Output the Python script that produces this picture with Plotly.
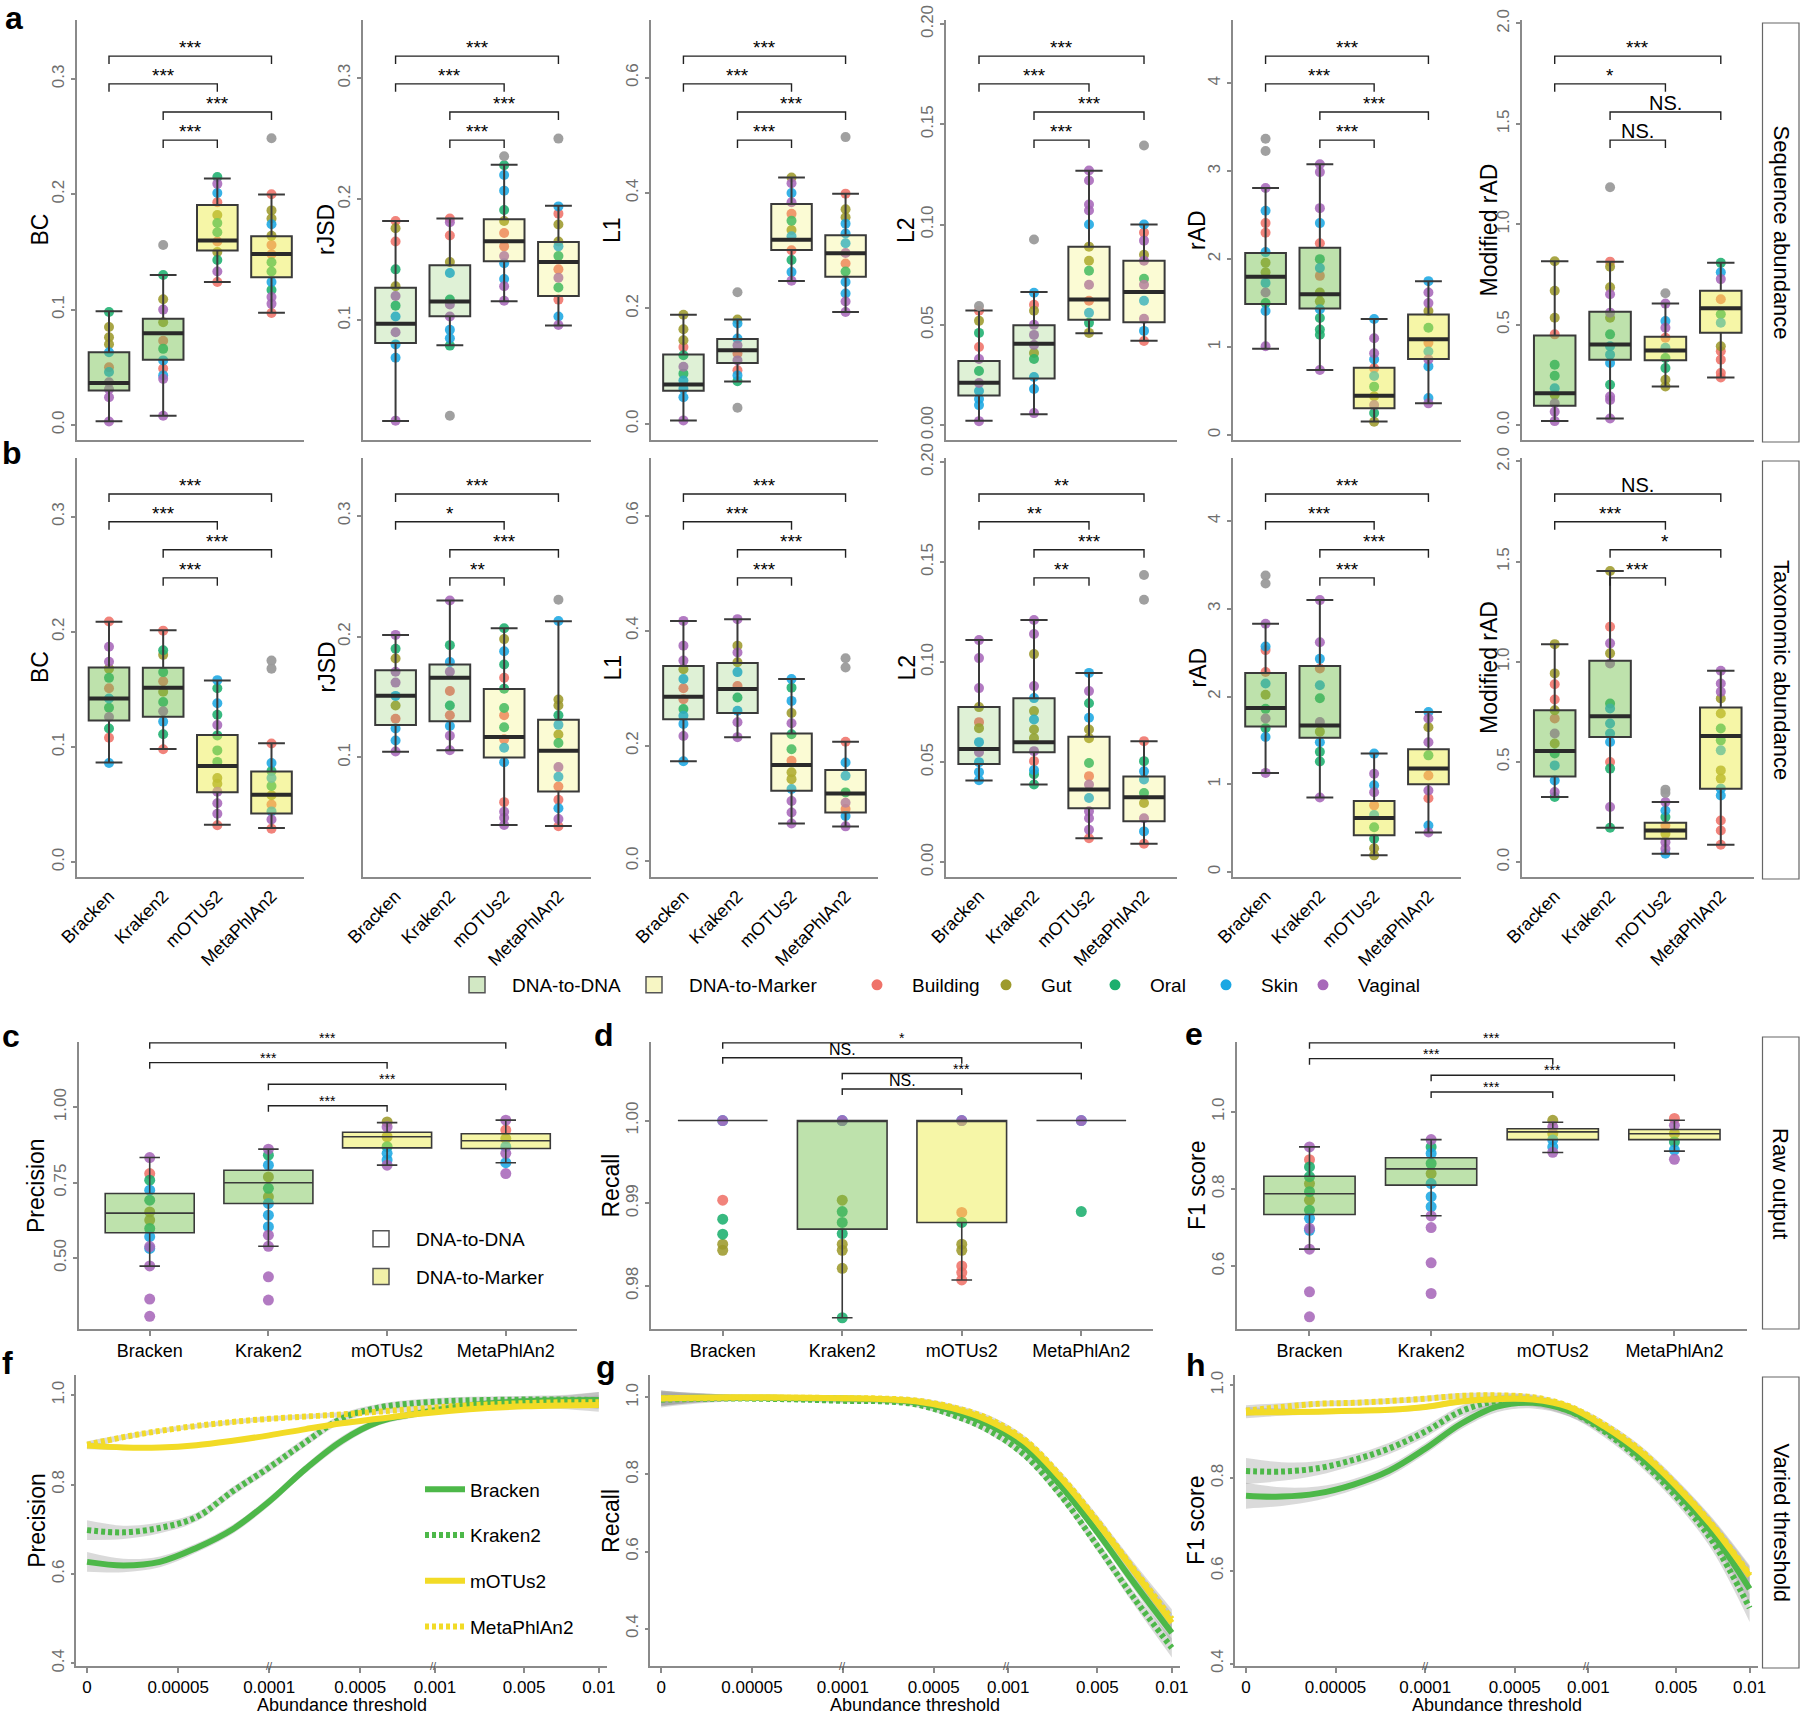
import plotly.graph_objects as go

W, H = 1800, 1714
FONT = "Liberation Sans, Arial, sans-serif"

TOOLS = ["Bracken", "Kraken2", "mOTUs2", "MetaPhlAn2"]
ENV_CODES = ["B", "G", "O", "S", "V"]
ENV_NAMES = ["Building", "Gut", "Oral", "Skin", "Vaginal"]
ENV_COLORS = ["#EF7269", "#9D9A2C", "#1DAF6E", "#1BA7E3", "#A768B9"]
OUTLIER_COLOR = "#9B9B9B"
GREEN_LINE = "#4DB849"
YELLOW_LINE = "#F2DB26"
SIG_PAIRS = [(1, 4), (1, 3), (2, 4), (2, 3)]

# ---------------- row a : sequence abundance ----------------
# box stats per tool: (lower whisker, Q1, median, Q3, upper whisker)
BC_SEQ_BOX = [(.0032, .0298, .0365, .0631, .0985), (.0081, .0565, .0796, .0921, .130),
              (.124, .1512, .1599, .1906, .2137), (.0973, .128, .1483, .1636, .1998)]
BC_SEQ_PTS = [
    [(.098, 'O'), (.085, 'G'), (.076, 'G'), (.070, 'G'), (.063, 'S'), (.050, 'B'), (.046, 'S'), (.037, 'V'), (.031, 'V'), (.024, 'V'), (.003, 'V')],
    [(.130, 'O'), (.109, 'G'), (.100, 'V'), (.089, 'G'), (.073, 'B'), (.066, 'O'), (.056, 'S'), (.049, 'B'), (.043, 'S'), (.040, 'V'), (.008, 'V')],
    [(.215, 'O'), (.209, 'V'), (.201, 'S'), (.193, 'B'), (.182, 'G'), (.175, 'O'), (.167, 'O'), (.159, 'B'), (.150, 'G'), (.143, 'O'), (.133, 'V'), (.124, 'B')],
    [(.200, 'B'), (.186, 'G'), (.179, 'G'), (.174, 'S'), (.164, 'G'), (.156, 'B'), (.148, 'B'), (.141, 'O'), (.133, 'O'), (.124, 'S'), (.117, 'O'), (.111, 'V'), (.105, 'V'), (.097, 'B')]]
BC_SEQ_OUT = [[], [.156], [], [.2485]]
BC_SEQ_SIG = ["***", "***", "***", "***"]

RJSD_SEQ_BOX = [(.0168, .0812, .097, .1268, .182), (.0793, .1033, .1155, .1453, .184),
                (.1157, .1486, .1652, .1834, .2285), (.0956, .1199, .148, .1646, .1945)]
RJSD_SEQ_PTS = [
    [(.182, 'B'), (.176, 'G'), (.165, 'B'), (.142, 'O'), (.128, 'G'), (.120, 'V'), (.112, 'O'), (.103, 'S'), (.090, 'V'), (.080, 'S'), (.069, 'S'), (.017, 'V')],
    [(.184, 'B'), (.181, 'V'), (.170, 'B'), (.148, 'G'), (.139, 'S'), (.117, 'O'), (.113, 'V'), (.103, 'V'), (.092, 'S'), (.085, 'S'), (.079, 'O')],
    [(.228, 'O'), (.220, 'S'), (.207, 'S'), (.191, 'O'), (.182, 'G'), (.172, 'B'), (.161, 'B'), (.153, 'V'), (.147, 'S'), (.134, 'S'), (.128, 'V'), (.116, 'V')],
    [(.194, 'S'), (.188, 'B'), (.179, 'G'), (.165, 'G'), (.161, 'S'), (.153, 'O'), (.142, 'B'), (.135, 'V'), (.127, 'O'), (.117, 'B'), (.103, 'S'), (.096, 'V')]]
RJSD_SEQ_OUT = [[], [.021], [.2354], [.250]]
RJSD_SEQ_SIG = ["***", "***", "***", "***"]

L1_SEQ_BOX = [(.0058, .0574, .0684, .120, .189), (.0736, .1055, .1275, .147, .181),
              (.2475, .3014, .319, .381, .4272), (.194, .255, .2957, .327, .399)]
L1_SEQ_PTS = [
    [(.189, 'G'), (.164, 'G'), (.145, 'G'), (.133, 'B'), (.119, 'O'), (.099, 'V'), (.087, 'O'), (.075, 'S'), (.061, 'S'), (.046, 'S'), (.006, 'V')],
    [(.181, 'G'), (.174, 'S'), (.148, 'S'), (.136, 'V'), (.122, 'B'), (.110, 'V'), (.093, 'B'), (.084, 'S'), (.074, 'O')],
    [(.427, 'G'), (.417, 'V'), (.400, 'S'), (.384, 'V'), (.364, 'B'), (.352, 'O'), (.336, 'G'), (.325, 'S'), (.301, 'B'), (.284, 'O'), (.263, 'S'), (.248, 'V')],
    [(.399, 'B'), (.372, 'G'), (.358, 'G'), (.347, 'S'), (.330, 'S'), (.313, 'S'), (.296, 'V'), (.278, 'B'), (.264, 'O'), (.246, 'S'), (.226, 'S'), (.212, 'V'), (.194, 'V')]]
L1_SEQ_OUT = [[], [.228, .0278], [], [.497]]
L1_SEQ_SIG = ["***", "***", "***", "***"]

L2_SEQ_BOX = [(.0022, .0148, .0211, .032, .0572), (.0055, .0232, .0406, .0498, .0664),
              (.0458, .0525, .0626, .089, .1268), (.0421, .0513, .0664, .082, .100)]
L2_SEQ_PTS = [
    [(.057, 'B'), (.052, 'G'), (.046, 'O'), (.039, 'B'), (.033, 'V'), (.027, 'O'), (.021, 'V'), (.017, 'S'), (.013, 'S'), (.010, 'S'), (.002, 'V')],
    [(.066, 'S'), (.060, 'B'), (.057, 'G'), (.050, 'V'), (.045, 'V'), (.040, 'V'), (.036, 'G'), (.033, 'O'), (.024, 'S'), (.018, 'S'), (.006, 'V')],
    [(.127, 'V'), (.122, 'V'), (.110, 'V'), (.107, 'V'), (.100, 'S'), (.089, 'G'), (.082, 'G'), (.077, 'O'), (.070, 'V'), (.062, 'B'), (.056, 'S'), (.051, 'O'), (.046, 'G')],
    [(.100, 'S'), (.096, 'B'), (.092, 'V'), (.085, 'G'), (.082, 'V'), (.073, 'O'), (.070, 'V'), (.062, 'S'), (.053, 'V'), (.047, 'S'), (.042, 'B')]]
L2_SEQ_OUT = [[.0594], [.0926], [], [.1394]]
L2_SEQ_SIG = ["***", "***", "***", "***"]

RAD_SEQ_BOX = [(0.98, 1.49, 1.80, 2.07, 2.81), (0.74, 1.44, 1.60, 2.13, 3.08),
               (0.152, 0.305, 0.446, 0.766, 1.32), (0.36, 0.865, 1.09, 1.37, 1.75)]
RAD_SEQ_PTS = [
    [(2.81, 'V'), (2.55, 'S'), (2.41, 'B'), (2.30, 'B'), (2.08, 'S'), (1.96, 'G'), (1.85, 'G'), (1.73, 'S'), (1.62, 'V'), (1.50, 'O'), (1.41, 'S'), (1.01, 'V')],
    [(3.08, 'V'), (2.99, 'V'), (2.58, 'V'), (2.41, 'S'), (2.18, 'B'), (2.0, 'O'), (1.90, 'S'), (1.81, 'B'), (1.62, 'G'), (1.52, 'G'), (1.43, 'S'), (1.33, 'O'), (1.20, 'O'), (1.14, 'O'), (0.74, 'V')],
    [(1.32, 'S'), (1.10, 'V'), (0.93, 'V'), (0.86, 'S'), (0.76, 'B'), (0.67, 'S'), (0.55, 'O'), (0.44, 'G'), (0.34, 'V'), (0.25, 'O'), (0.15, 'G')],
    [(1.75, 'S'), (1.62, 'V'), (1.50, 'V'), (1.41, 'G'), (1.22, 'O'), (1.05, 'B'), (0.95, 'S'), (0.86, 'V'), (0.78, 'S'), (0.42, 'S'), (0.36, 'V')]]
RAD_SEQ_OUT = [[3.37, 3.23], [], [], []]
RAD_SEQ_SIG = ["***", "***", "***", "***"]

MRAD_SEQ_BOX = [(.020, .097, .159, .4465, .816), (.033, .326, .401, .565, .814),
                (.192, .323, .371, .44, .605), (.237, .46, .582, .669, .808)]
MRAD_SEQ_PTS = [
    [(.816, 'G'), (.669, 'G'), (.535, 'G'), (.452, 'B'), (.301, 'O'), (.246, 'O'), (.184, 'S'), (.151, 'G'), (.109, 'V'), (.067, 'V'), (.020, 'V')],
    [(.814, 'B'), (.789, 'G'), (.686, 'G'), (.652, 'V'), (.560, 'V'), (.535, 'G'), (.452, 'O'), (.393, 'S'), (.351, 'S'), (.309, 'S'), (.201, 'O'), (.142, 'V'), (.125, 'V'), (.033, 'V')],
    [(.605, 'V'), (.518, 'S'), (.485, 'V'), (.435, 'B'), (.385, 'S'), (.334, 'O'), (.284, 'O'), (.226, 'G'), (.192, 'G')],
    [(.808, 'O'), (.761, 'S'), (.727, 'V'), (.627, 'B'), (.552, 'O'), (.510, 'S'), (.393, 'G'), (.368, 'B'), (.326, 'B'), (.259, 'B'), (.237, 'B')]]
MRAD_SEQ_OUT = [[], [1.184], [.657], []]
MRAD_SEQ_SIG = ["***", "*", "NS.", "NS."]

# ---------------- row b : taxonomic abundance ----------------
BC_TAX_BOX = [(.0864, .123, .142, .169, .2087), (.0983, .1263, .1514, .1688, .2014),
              (.0324, .0607, .0835, .1104, .1578), (.0295, .0422, .0584, .0786, .1032)]
BC_TAX_PTS = [
    [(.209, 'B'), (.187, 'V'), (.174, 'V'), (.168, 'G'), (.160, 'O'), (.151, 'B'), (.142, 'S'), (.134, 'O'), (.126, 'V'), (.116, 'O'), (.108, 'B'), (.086, 'S')],
    [(.201, 'B'), (.184, 'O'), (.180, 'G'), (.165, 'O'), (.157, 'B'), (.148, 'G'), (.139, 'O'), (.131, 'V'), (.122, 'S'), (.111, 'O'), (.098, 'B')],
    [(.158, 'S'), (.151, 'O'), (.138, 'S'), (.128, 'O'), (.119, 'V'), (.110, 'O'), (.097, 'O'), (.087, 'O'), (.073, 'G'), (.068, 'G'), (.061, 'V'), (.051, 'V'), (.042, 'V'), (.032, 'B')],
    [(.103, 'B'), (.086, 'S'), (.079, 'O'), (.073, 'S'), (.066, 'O'), (.058, 'G'), (.050, 'B'), (.044, 'S'), (.037, 'V'), (.029, 'B')]]
BC_TAX_OUT = [[], [], [], [.175, .168]]
BC_TAX_SIG = ["***", "***", "***", "***"]

RJSD_TAX_BOX = [(.1047, .1268, .1512, .1722, .2015), (.106, .130, .166, .177, .230),
                (.044, .100, .117, .1567, .207), (.0433, .0718, .1055, .1313, .2129)]
RJSD_TAX_PTS = [
    [(.2015, 'V'), (.190, 'O'), (.182, 'G'), (.171, 'V'), (.162, 'V'), (.151, 'S'), (.143, 'G'), (.132, 'B'), (.124, 'S'), (.114, 'S'), (.105, 'V')],
    [(.230, 'V'), (.193, 'O'), (.179, 'S'), (.171, 'V'), (.155, 'B'), (.143, 'O'), (.135, 'B'), (.126, 'S'), (.118, 'V'), (.106, 'V')],
    [(.207, 'O'), (.198, 'G'), (.188, 'S'), (.177, 'O'), (.166, 'B'), (.157, 'O'), (.141, 'O'), (.135, 'B'), (.125, 'O'), (.115, 'B'), (.108, 'S'), (.096, 'S'), (.063, 'B'), (.055, 'V'), (.050, 'V'), (.044, 'V')],
    [(.213, 'S'), (.148, 'G'), (.143, 'G'), (.135, 'O'), (.127, 'S'), (.119, 'G'), (.112, 'O'), (.092, 'V'), (.084, 'S'), (.076, 'B'), (.065, 'B'), (.058, 'S'), (.049, 'V'), (.043, 'B')]]
RJSD_TAX_OUT = [[], [], [], [.2306]]
RJSD_TAX_SIG = ["***", "*", "***", "**"]

L1_TAX_BOX = [(.173, .246, .285, .3386, .417), (.215, .2568, .2986, .344, .4197),
              (.065, .1217, .1664, .2215, .316), (.0597, .084, .117, .1577, .207)]
L1_TAX_PTS = [
    [(.417, 'V'), (.374, 'V'), (.348, 'V'), (.333, 'G'), (.316, 'S'), (.300, 'B'), (.281, 'B'), (.264, 'O'), (.252, 'S'), (.238, 'S'), (.217, 'V'), (.173, 'S')],
    [(.420, 'V'), (.374, 'G'), (.362, 'V'), (.345, 'G'), (.328, 'S'), (.304, 'B'), (.284, 'O'), (.261, 'S'), (.241, 'V'), (.215, 'V')],
    [(.316, 'S'), (.301, 'O'), (.278, 'S'), (.257, 'G'), (.239, 'V'), (.220, 'O'), (.194, 'O'), (.174, 'B'), (.154, 'G'), (.142, 'G'), (.125, 'S'), (.104, 'V'), (.084, 'V'), (.065, 'V')],
    [(.207, 'B'), (.171, 'S'), (.148, 'S'), (.119, 'O'), (.101, 'V'), (.090, 'B'), (.078, 'S'), (.060, 'V')]]
L1_TAX_OUT = [[], [], [], [.352, .336]]
L1_TAX_SIG = ["***", "***", "***", "***"]

L2_TAX_BOX = [(.0408, .0491, .0566, .0775, .111), (.0388, .055, .060, .0819, .121),
              (.012, .027, .0363, .0627, .0946), (.0092, .0204, .0324, .0428, .0605)]
L2_TAX_PTS = [
    [(.111, 'V'), (.102, 'V'), (.087, 'V'), (.0775, 'G'), (.070, 'B'), (.067, 'G'), (.060, 'S'), (.055, 'V'), (.050, 'S'), (.045, 'S'), (.041, 'S')],
    [(.121, 'V'), (.114, 'V'), (.104, 'G'), (.088, 'V'), (.082, 'S'), (.0755, 'G'), (.0713, 'S'), (.0663, 'G'), (.062, 'G'), (.0555, 'V'), (.0505, 'B'), (.046, 'S'), (.044, 'O'), (.0388, 'O')],
    [(.0946, 'S'), (.0855, 'V'), (.0794, 'O'), (.0722, 'S'), (.0663, 'G'), (.062, 'G'), (.0496, 'O'), (.043, 'B'), (.0388, 'V'), (.0321, 'S'), (.0254, 'V'), (.022, 'V'), (.0162, 'V'), (.012, 'B')],
    [(.0605, 'B'), (.0505, 'O'), (.0454, 'S'), (.0413, 'S'), (.0346, 'O'), (.0296, 'G'), (.022, 'V'), (.0154, 'S'), (.0092, 'B')]]
L2_TAX_OUT = [[], [], [], [.1435, .1312]]
L2_TAX_SIG = ["**", "**", "***", "**"]

RAD_TAX_BOX = [(1.13, 1.66, 1.87, 2.27, 2.83), (0.85, 1.53, 1.67, 2.35, 3.10),
               (0.19, 0.418, 0.616, 0.81, 1.35), (0.449, 1.00, 1.18, 1.40, 1.825)]
RAD_TAX_PTS = [
    [(2.83, 'V'), (2.57, 'S'), (2.53, 'B'), (2.28, 'B'), (2.15, 'S'), (2.02, 'G'), (1.86, 'O'), (1.75, 'V'), (1.64, 'O'), (1.54, 'S'), (1.13, 'V')],
    [(3.10, 'V'), (2.62, 'V'), (2.43, 'S'), (2.32, 'B'), (2.13, 'S'), (1.98, 'O'), (1.71, 'V'), (1.60, 'G'), (1.48, 'S'), (1.37, 'O'), (1.26, 'O'), (0.85, 'V')],
    [(1.35, 'S'), (1.12, 'V'), (0.99, 'S'), (0.91, 'V'), (0.76, 'B'), (0.65, 'S'), (0.51, 'O'), (0.38, 'O'), (0.27, 'G'), (0.19, 'G')],
    [(1.825, 'S'), (1.75, 'V'), (1.65, 'G'), (1.48, 'V'), (1.33, 'O'), (1.10, 'B'), (0.93, 'V'), (0.84, 'B'), (0.53, 'S'), (0.45, 'V')]]
RAD_TAX_OUT = [[3.38, 3.29], [], [], []]
RAD_TAX_SIG = ["***", "***", "***", "***"]

MRAD_TAX_BOX = [(.325, .428, .555, .758, 1.088), (.172, .625, .728, 1.005, 1.453),
                (.042, .117, .158, .197, .30), (.087, .367, .63, .772, .955)]
MRAD_TAX_PTS = [
    [(1.088, 'G'), (.942, 'G'), (.888, 'B'), (.812, 'B'), (.758, 'G'), (.717, 'B'), (.642, 'V'), (.592, 'G'), (.542, 'O'), (.483, 'S'), (.408, 'S'), (.35, 'V'), (.325, 'O')],
    [(1.453, 'G'), (1.175, 'B'), (1.092, 'V'), (1.042, 'G'), (.992, 'V'), (.792, 'O'), (.767, 'S'), (.692, 'S'), (.642, 'S'), (.60, 'S'), (.50, 'B'), (.467, 'O'), (.275, 'V'), (.172, 'O')],
    [(.30, 'V'), (.258, 'S'), (.225, 'O'), (.183, 'B'), (.142, 'G'), (.10, 'V'), (.067, 'V'), (.042, 'S')],
    [(.955, 'V'), (.892, 'V'), (.85, 'V'), (.817, 'G'), (.742, 'G'), (.667, 'O'), (.608, 'O'), (.558, 'S'), (.458, 'G'), (.417, 'G'), (.367, 'S'), (.333, 'S'), (.208, 'B'), (.158, 'B'), (.087, 'B')]]
MRAD_TAX_OUT = [[], [], [.362, .345], []]
MRAD_TAX_SIG = ["NS.", "***", "*", "***"]

# ---------------- row c : raw output ----------------
PREC_BOX = [(.4735, .584, .649, .714, .8333), (.539, .681, .7495, .791, .861),
            (.808, .8653, .902, .917, .949), (.816, .863, .889, .912, .957)]
PREC_PTS = [
    [(.833, 'V'), (.78, 'B'), (.758, 'O'), (.725, 'S'), (.692, 'O'), (.653, 'G'), (.626, 'G'), (.598, 'O'), (.571, 'S'), (.538, 'V'), (.532, 'S'), (.474, 'V'), (.364, 'V'), (.307, 'V')],
    [(.861, 'V'), (.841, 'O'), (.808, 'S'), (.769, 'G'), (.731, 'O'), (.703, 'G'), (.681, 'S'), (.642, 'S'), (.604, 'S'), (.576, 'V'), (.539, 'V'), (.438, 'V'), (.361, 'V')],
    [(.951, 'G'), (.935, 'V'), (.902, 'G'), (.869, 'O'), (.847, 'S'), (.825, 'S'), (.808, 'V')],
    [(.957, 'V'), (.924, 'B'), (.896, 'G'), (.869, 'S'), (.847, 'V'), (.816, 'S'), (.780, 'V')]]
PREC_SIG = ["***", "***", "***", "***"]

REC_BOX = [(1, 1, 1, 1, 1), (.97616, .98687, 1.0, 1.0, 1.0),
           (.98073, .98768, 1.0, 1.0, 1.0), (1, 1, 1, 1, 1)]
REC_PTS = [
    [(1.0, 'S'), (1.0, 'V'), (.99038, 'B'), (.98808, 'O'), (.98626, 'O'), (.98505, 'G'), (.98432, 'G')],
    [(1.0, 'S'), (1.0, 'V'), (.99038, 'G'), (.9890, 'O'), (.98768, 'O'), (.98634, 'O'), (.98505, 'G'), (.98432, 'G'), (.98214, 'G'), (.97616, 'O')],
    [(1.0, 'S'), (1.0, 'V'), (.98889, 'B'), (.98768, 'O'), (.98505, 'G'), (.98432, 'G'), (.98242, 'B'), (.98162, 'B'), (.98073, 'B')],
    [(1.0, 'S'), (1.0, 'V'), (.9890, 'O')]]
REC_SIG = ["*", "NS.", "***", "NS."]

F1_BOX = [(.644, .734, .7875, .833, .909), (.7305, .81, .852, .881, .928),
          (.8946, .928, .948, .956, .973), (.898, .928, .943, .954, .978)]
F1_PTS = [
    [(.909, 'V'), (.876, 'B'), (.857, 'O'), (.832, 'O'), (.814, 'G'), (.793, 'O'), (.771, 'G'), (.745, 'O'), (.724, 'S'), (.698, 'V'), (.693, 'S'), (.644, 'V'), (.5335, 'V'), (.4687, 'V')],
    [(.928, 'V'), (.909, 'O'), (.892, 'S'), (.866, 'O'), (.840, 'G'), (.814, 'S'), (.780, 'S'), (.754, 'S'), (.730, 'V'), (.70, 'V'), (.6086, 'V'), (.529, 'V')],
    [(.978, 'G'), (.961, 'V'), (.944, 'G'), (.927, 'S'), (.909, 'S'), (.895, 'V')],
    [(.983, 'B'), (.965, 'V'), (.944, 'G'), (.922, 'O'), (.901, 'S'), (.877, 'V')]]
F1_SIG = ["***", "***", "***", "***"]

# ---------------- rows f-h : varied threshold ----------------
THRESH_LABELS = ["0", "0.00005", "0.0001", "0.0005", "0.001", "0.005", "0.01"]
THRESH_POS = [0, 1, 2, 3, 3.82, 4.8, 5.62]
CURVE_POS = [0, 0.4, 0.8, 1.2, 1.6, 2.0, 2.4, 2.8, 3.2, 3.6, 4.0, 4.4, 4.8, 5.2, 5.62]

F_BRACKEN = [.627, .619, .627, .658, .70, .762, .835, .898, .94, .958, .972, .981, .986, .988, .989]
F_KRAKEN2 = [.698, .693, .703, .727, .785, .838, .895, .948, .972, .982, .987, .989, .99, .99, .989]
F_MOTUS2 = [.887, .883, .883, .888, .898, .91, .924, .937, .947, .957, .965, .971, .975, .977, .978]
F_METAPHLAN2 = [.889, .906, .92, .931, .94, .947, .952, .957, .963, .969, .975, .979, .982, .984, .984]
F_CI_GREEN = [.022, .015, .012, .01, .01, .01, .01, .01, .008, .008, .008, .008, .008, .01, .018]
F_CI_YELLOW = [.008, .006, .005, .005, .005, .005, .005, .005, .005, .005, .005, .005, .006, .008, .015]

G_BRACKEN = [.998, .999, .999, .999, .998, .997, .995, .987, .965, .93, .87, .77, .65, .52, .389]
G_KRAKEN2 = [.994, .996, .997, .996, .994, .991, .99, .982, .955, .915, .85, .745, .615, .48, .35]
G_MOTUS2 = [.998, .999, 1.0, 1.0, .999, .998, .996, .99, .972, .94, .885, .79, .675, .55, .415]
G_METAPHLAN2 = [.997, .998, .999, .999, .999, .998, .997, .992, .975, .945, .89, .795, .68, .555, .425]
G_CI = [.02, .012, .007, .006, .006, .006, .006, .007, .008, .009, .01, .012, .014, .017, .025]

H_BRACKEN = [.762, .760, .767, .786, .816, .863, .917, .954, .962, .945, .905, .846, .772, .683, .561]
H_KRAKEN2 = [.815, .814, .821, .839, .864, .90, .944, .966, .966, .945, .90, .838, .76, .665, .52]
H_MOTUS2 = [.941, .942, .943, .945, .947, .953, .965, .97, .969, .953, .911, .856, .783, .697, .589]
H_METAPHLAN2 = [.945, .953, .96, .962, .966, .971, .977, .978, .974, .955, .915, .86, .786, .70, .592]
H_CI_GREEN = [.028, .02, .015, .012, .012, .012, .012, .012, .012, .012, .012, .013, .015, .02, .03]
H_CI_YELLOW = [.012, .008, .006, .006, .006, .006, .006, .006, .006, .006, .008, .01, .012, .015, .02]

# ---------------- layout geometry (pixels) ----------------
ROW_A = (20, 440)
ROW_B = (458, 877)
ROW_C = (1042, 1329)
ROW_F = (1375, 1666)
COLS_AB = [(76.5, 304), (363, 591), (651, 878), (946, 1177), (1233, 1461), (1521.5, 1754)]
COLS_C = [(78.5, 577), (651, 1153), (1236.5, 1747.4)]
COLS_F = [(76.3, 607), (650.4, 1180), (1235.4, 1757.7)]


def xdom(l, r):
    return [l / W, r / W]


def ydom(t, b):
    return [1 - b / H, 1 - t / H]


def rgba(rgb, a):
    return "rgba(%d,%d,%d,%.2f)" % (rgb[0], rgb[1], rgb[2], a)


GREEN_RGB = (110, 190, 70)
YELLOW_RGB = (235, 235, 60)

fig = go.Figure()
axes = {}
annotations = []
shapes = []


def names(k):
    s = "" if k == 1 else str(k)
    return "x" + s, "y" + s, "xaxis" + s, "yaxis" + s


def yaxis_cfg(k, dom, rng, tv, tt):
    return dict(domain=dom, range=list(rng), tickvals=tv, ticktext=tt, tickangle=-90,
                showline=True, linecolor="#8a8a8a", linewidth=1.5, ticks="outside", ticklen=4,
                tickcolor="#8a8a8a", tickwidth=1.5, tickfont=dict(size=17, color="#6e6e6e", family=FONT),
                showgrid=False, zeroline=False, anchor=names(k)[0], fixedrange=True)


def ytitle(text, axis_x, ypx, off):
    annotations.append(dict(x=(axis_x - off) / W, y=1 - (ypx[0] + ypx[1]) / 2 / H, xref="paper", yref="paper",
                            text=text, textangle=-90, showarrow=False, xanchor="center", yanchor="middle",
                            font=dict(size=23, color="black", family=FONT)))


def box_panel(k, xpx, ypx, title, box, pts, outs, sig, yr, tv, tt, alpha, fracs, tick_px,
              mode, psize, ww, med_w, star_size, ns_size, star_shift, ns_shift, line_w, title_off):
    xa, ya, xan, yan = names(k)
    lo, hi = yr
    ph = ypx[1] - ypx[0]
    # points (drawn in the box layer, under the boxes)
    for ci, code in enumerate(ENV_CODES):
        xs, ys = [], []
        for t in range(4):
            for v, e in pts[t]:
                if e == code:
                    xs.append(t + 1)
                    ys.append(v)
        if xs:
            fig.add_trace(go.Box(x=xs, y=ys, boxpoints="all", jitter=0, pointpos=0,
                                 marker=dict(color=ENV_COLORS[ci], size=psize, opacity=0.88),
                                 line=dict(width=0, color="rgba(0,0,0,0)"), fillcolor="rgba(0,0,0,0)",
                                 xaxis=xa, yaxis=ya, showlegend=False, hoverinfo="skip"))
    # boxes
    for rgb, idxs in ((GREEN_RGB, [0, 1]), (YELLOW_RGB, [2, 3])):
        fig.add_trace(go.Box(x=[i + 1 for i in idxs],
                             lowerfence=[box[i][0] for i in idxs], q1=[box[i][1] for i in idxs],
                             median=[box[i][2] for i in idxs], q3=[box[i][3] for i in idxs],
                             upperfence=[box[i][4] for i in idxs],
                             width=0.75, whiskerwidth=ww, fillcolor=rgba(rgb, alpha),
                             line=dict(color="#3a3a3a", width=line_w), boxpoints=False,
                             xaxis=xa, yaxis=ya, showlegend=False, hoverinfo="skip"))
    # thick medians
    if med_w:
        mx, my = [], []
        for i in range(4):
            mx += [i + 1 - 0.375, i + 1 + 0.375, None]
            my += [box[i][2], box[i][2], None]
        fig.add_trace(go.Scatter(x=mx, y=my, mode="lines", line=dict(color="#2a2a2a", width=med_w),
                                 xaxis=xa, yaxis=ya, showlegend=False, hoverinfo="skip"))
    # outliers
    ox, oy = [], []
    for t in range(4):
        for v in outs[t]:
            ox.append(t + 1)
            oy.append(v)
    if ox:
        fig.add_trace(go.Scatter(x=ox, y=oy, mode="markers",
                                 marker=dict(color=OUTLIER_COLOR, size=psize, opacity=0.95),
                                 xaxis=xa, yaxis=ya, showlegend=False, hoverinfo="skip", cliponaxis=False))
    # significance brackets
    bx, by = [], []
    tk = tick_px / ph * (hi - lo)
    for (i, j), f, lab in zip(SIG_PAIRS, fracs, sig):
        yb = lo + f * (hi - lo)
        bx += [i, i, j, j, None]
        by += [yb - tk, yb, yb, yb - tk, None]
        ns = lab.startswith("NS")
        annotations.append(dict(x=(i + j) / 2, y=yb, xref=xa, yref=ya, text=lab, showarrow=False,
                                xanchor="center", yanchor="bottom",
                                yshift=ns_shift if ns else star_shift,
                                font=dict(size=ns_size if ns else star_size, color="black", family=FONT)))
    fig.add_trace(go.Scatter(x=bx, y=by, mode="lines", line=dict(color="#222222", width=1.4),
                             xaxis=xa, yaxis=ya, showlegend=False, hoverinfo="skip", cliponaxis=False))
    # axes
    xcfg = dict(domain=xdom(*xpx), range=[0.4, 4.6], tickvals=[1, 2, 3, 4], ticktext=TOOLS,
                showline=True, linecolor="#8a8a8a", linewidth=1.5, showgrid=False, zeroline=False,
                anchor=ya, fixedrange=True, tickfont=dict(size=18, color="black", family=FONT))
    if mode == "none":
        xcfg.update(showticklabels=False, ticks="")
    elif mode == "rot":
        xcfg.update(ticks="", tickangle=-45)
    else:
        xcfg.update(ticks="outside", ticklen=5, tickcolor="#8a8a8a", tickwidth=1.5, tickangle=0)
    axes[xan] = xcfg
    axes[yan] = yaxis_cfg(k, ydom(*ypx), yr, tv, tt)
    ytitle(title, xpx[0], ypx, title_off)


AB_SPECS = [
    ("BC", (-0.013, 0.351), [0, 0.1, 0.2, 0.3], ["0.0", "0.1", "0.2", "0.3"], 0.45, 37),
    ("rJSD", (0.001, 0.348), [0.1, 0.2, 0.3], ["0.1", "0.2", "0.3"], 0.22, 37),
    ("L1", (-0.028, 0.70), [0, 0.2, 0.4, 0.6], ["0.0", "0.2", "0.4", "0.6"], 0.22, 39),
    ("L2", (-0.0074, 0.202), [0, 0.05, 0.1, 0.15, 0.2], ["0.00", "0.05", "0.10", "0.15", "0.20"], 0.22, 40),
    ("rAD", (-0.057, 4.72), [0, 1, 2, 3, 4], ["0", "1", "2", "3", "4"], 0.45, 36),
    ("Modified rAD", (-0.074, 2.017), [0, 0.5, 1.0, 1.5, 2.0], ["0.0", "0.5", "1.0", "1.5", "2.0"], 0.45, 33),
]
SEQ_DATA = [(BC_SEQ_BOX, BC_SEQ_PTS, BC_SEQ_OUT, BC_SEQ_SIG), (RJSD_SEQ_BOX, RJSD_SEQ_PTS, RJSD_SEQ_OUT, RJSD_SEQ_SIG),
            (L1_SEQ_BOX, L1_SEQ_PTS, L1_SEQ_OUT, L1_SEQ_SIG), (L2_SEQ_BOX, L2_SEQ_PTS, L2_SEQ_OUT, L2_SEQ_SIG),
            (RAD_SEQ_BOX, RAD_SEQ_PTS, RAD_SEQ_OUT, RAD_SEQ_SIG), (MRAD_SEQ_BOX, MRAD_SEQ_PTS, MRAD_SEQ_OUT, MRAD_SEQ_SIG)]
TAX_DATA = [(BC_TAX_BOX, BC_TAX_PTS, BC_TAX_OUT, BC_TAX_SIG), (RJSD_TAX_BOX, RJSD_TAX_PTS, RJSD_TAX_OUT, RJSD_TAX_SIG),
            (L1_TAX_BOX, L1_TAX_PTS, L1_TAX_OUT, L1_TAX_SIG), (L2_TAX_BOX, L2_TAX_PTS, L2_TAX_OUT, L2_TAX_SIG),
            (RAD_TAX_BOX, RAD_TAX_PTS, RAD_TAX_OUT, RAD_TAX_SIG), (MRAD_TAX_BOX, MRAD_TAX_PTS, MRAD_TAX_OUT, MRAD_TAX_SIG)]
AB_FRACS = [0.914, 0.848, 0.781, 0.714]

for r, (rowpx, data, mode) in enumerate(((ROW_A, SEQ_DATA, "none"), (ROW_B, TAX_DATA, "rot"))):
    for c in range(6):
        title, yr, tv, tt, alpha, toff = AB_SPECS[c]
        box, pts, outs, sig = data[c]
        box_panel(r * 6 + c + 1, COLS_AB[c], rowpx, title, box, pts, outs, sig, yr, tv, tt, alpha,
                  AB_FRACS, 8, mode, 10, 0.66, 4, 19, 20, -4, -4, 2, toff)

C_SPECS = [
    ("Precision", PREC_BOX, PREC_PTS, PREC_SIG, (0.265, 1.216), [0.5, 0.75, 1.0], ["0.50", "0.75", "1.00"], [0.997, 0.928, 0.853, 0.778], 43),
    ("Recall", REC_BOX, REC_PTS, REC_SIG, (0.9748, 1.0095), [0.98, 0.99, 1.0], ["0.98", "0.99", "1.00"], [0.997, 0.945, 0.890, 0.836], 41),
    ("F1 score", F1_BOX, F1_PTS, F1_SIG, (0.437, 1.181), [0.6, 0.8, 1.0], ["0.6", "0.8", "1.0"], [0.997, 0.942, 0.884, 0.826], 40),
]
for c, (title, box, pts, sig, yr, tv, tt, fr, toff) in enumerate(C_SPECS):
    box_panel(13 + c, COLS_C[c], ROW_C, title, box, pts, [[], [], [], []], sig, yr, tv, tt, 0.45,
              fr, 6, "flat", 11, 0.23, 0, 14, 16, -5, -2, 1.6, toff)

# ---------------- threshold curves ----------------
F_SERIES = [("Bracken", F_BRACKEN, F_CI_GREEN, GREEN_LINE, "solid"),
            ("Kraken2", F_KRAKEN2, F_CI_GREEN, GREEN_LINE, "dot"),
            ("mOTUs2", F_MOTUS2, F_CI_YELLOW, YELLOW_LINE, "solid"),
            ("MetaPhlAn2", F_METAPHLAN2, F_CI_YELLOW, YELLOW_LINE, "dot")]
G_SERIES = [("Bracken", G_BRACKEN, G_CI, GREEN_LINE, "solid"),
            ("Kraken2", G_KRAKEN2, G_CI, GREEN_LINE, "dot"),
            ("mOTUs2", G_MOTUS2, G_CI, YELLOW_LINE, "solid"),
            ("MetaPhlAn2", G_METAPHLAN2, G_CI, YELLOW_LINE, "dot")]
H_SERIES = [("Bracken", H_BRACKEN, H_CI_GREEN, GREEN_LINE, "solid"),
            ("Kraken2", H_KRAKEN2, H_CI_GREEN, GREEN_LINE, "dot"),
            ("mOTUs2", H_MOTUS2, H_CI_YELLOW, YELLOW_LINE, "solid"),
            ("MetaPhlAn2", H_METAPHLAN2, H_CI_YELLOW, YELLOW_LINE, "dot")]

CURVE_SPECS = [("Precision", F_SERIES, (0.394, 1.045)),
               ("Recall", G_SERIES, (0.303, 1.058)),
               ("F1 score", H_SERIES, (0.395, 1.022))]

for c, (title, series, yr) in enumerate(CURVE_SPECS):
    k = 16 + c
    xa, ya, xan, yan = names(k)
    for name, vals, ci, color, dash in series:
        up = [v + e for v, e in zip(vals, ci)]
        dn = [v - e for v, e in zip(vals, ci)]
        fig.add_trace(go.Scatter(x=CURVE_POS, y=up, mode="lines", line=dict(width=0, shape="spline"),
                                 xaxis=xa, yaxis=ya, showlegend=False, hoverinfo="skip"))
        fig.add_trace(go.Scatter(x=CURVE_POS, y=dn, mode="lines", line=dict(width=0, shape="spline"),
                                 fill="tonexty", fillcolor="rgba(150,150,150,0.35)",
                                 xaxis=xa, yaxis=ya, showlegend=False, hoverinfo="skip"))
    for gi, (name, vals, ci, color, dash) in enumerate(series):
        fig.add_trace(go.Scatter(x=CURVE_POS, y=vals, mode="lines", name=name,
                                 line=dict(color=color, width=6, shape="spline",
                                           dash="4px,3px" if dash == "dot" else "solid"),
                                 xaxis=xa, yaxis=ya, showlegend=(c == 0), legend="legend9",
                                 legendgroup="g%d" % gi, hoverinfo="skip"))
    axes[xan] = dict(domain=xdom(*COLS_F[c]), range=[-0.118, 5.71], tickvals=THRESH_POS, ticktext=THRESH_LABELS,
                     showline=True, linecolor="#8a8a8a", linewidth=1.5, ticks="outside", ticklen=5,
                     tickcolor="#8a8a8a", tickwidth=1.5, showgrid=False, zeroline=False, anchor=ya,
                     tickfont=dict(size=17, color="black", family=FONT), fixedrange=True)
    axes[yan] = yaxis_cfg(k, ydom(*ROW_F), yr, [0.4, 0.6, 0.8, 1.0], ["0.4", "0.6", "0.8", "1.0"])
    ytitle(title, COLS_F[c][0], ROW_F, 40)
    annotations.append(dict(x=(COLS_F[c][0] + COLS_F[c][1]) / 2 / W, y=1 - 1705 / H, xref="paper", yref="paper",
                            text="Abundance threshold", showarrow=False, xanchor="center", yanchor="middle",
                            font=dict(size=18, color="black", family=FONT)))
    for bp in (2.0, 3.8):
        annotations.append(dict(x=bp, y=0, xref=xa, yref=ya + " domain", text="//", showarrow=False,
                                xanchor="center", yanchor="middle", font=dict(size=11, color="#555", family=FONT)))

# ---------------- strips ----------------
STRIPS = [("Sequence abundance", 23, 442), ("Taxonomic abundance", 461, 879),
          ("Raw output", 1037, 1329), ("Varied threshold", 1377, 1668)]
for text, t, b in STRIPS:
    shapes.append(dict(type="rect", xref="paper", yref="paper", x0=1762.5 / W, x1=1799 / W,
                       y0=1 - b / H, y1=1 - t / H, line=dict(color="#666666", width=1.2), fillcolor="white"))
    annotations.append(dict(x=1781 / W, y=1 - (t + b) / 2 / H, xref="paper", yref="paper", text=text,
                            textangle=90, showarrow=False, xanchor="center", yanchor="middle",
                            font=dict(size=22, color="black", family=FONT)))

# ---------------- panel letters ----------------
LETTERS = [("a", 14, 18), ("b", 12, 453), ("c", 11, 1036), ("d", 604, 1035), ("e", 1194, 1034),
           ("f", 7, 1363), ("g", 606, 1367), ("h", 1196, 1365)]
for L, x, y in LETTERS:
    annotations.append(dict(x=x / W, y=1 - y / H, xref="paper", yref="paper", text="<b>%s</b>" % L,
                            showarrow=False, xanchor="center", yanchor="middle",
                            font=dict(size=32, color="black", family=FONT)))

# ---------------- legends ----------------
def leg(xpx, ypx, size=19, itemwidth=30, gap=0):
    return dict(x=xpx / W, y=1 - ypx / H, xanchor="left", yanchor="middle", bgcolor="rgba(0,0,0,0)",
                borderwidth=0, font=dict(size=size, family=FONT, color="black"), itemwidth=itemwidth,
                tracegroupgap=gap, orientation="v", itemclick=False, itemdoubleclick=False)


LEG_Y = 985
GROUP_KEYS = [("DNA-to-DNA", "#d2e8c4", "legend", 442), ("DNA-to-Marker", "#f7f6c4", "legend2", 619)]
for name, col, lg, xp in GROUP_KEYS:
    fig.add_trace(go.Scatter(x=[None], y=[None], mode="markers", name=name,
                             marker=dict(symbol="square", size=16, color=col, line=dict(color="#555555", width=1.5)),
                             legend=lg, showlegend=True, xaxis="x", yaxis="y"))
ENV_LEG_X = [842, 971, 1080, 1191, 1288]
for i in range(5):
    fig.add_trace(go.Scatter(x=[None], y=[None], mode="markers", name=ENV_NAMES[i],
                             marker=dict(symbol="circle", size=11, color=ENV_COLORS[i]),
                             legend="legend%d" % (i + 3), showlegend=True, xaxis="x", yaxis="y"))
INSET_KEYS = [("DNA-to-DNA", "white"), ("DNA-to-Marker", "#f2f1a8")]
for gi, (name, col) in enumerate(INSET_KEYS):
    fig.add_trace(go.Scatter(x=[None], y=[None], mode="markers", name=name,
                             marker=dict(symbol="square", size=16, color=col, line=dict(color="#555555", width=1.5)),
                             legend="legend8", legendgroup="c%d" % gi, showlegend=True, xaxis="x13", yaxis="y13"))

legends = dict(legend=leg(GROUP_KEYS[0][3], LEG_Y, itemwidth=60), legend2=leg(GROUP_KEYS[1][3], LEG_Y, itemwidth=60))
for i in range(5):
    legends["legend%d" % (i + 3)] = leg(ENV_LEG_X[i], LEG_Y, itemwidth=60)
legends["legend8"] = leg(346, 1258, itemwidth=60, gap=10)
legends["legend9"] = leg(420, 1558, itemwidth=40, gap=18)

fig.update_layout(width=W, height=H, margin=dict(l=0, r=0, t=0, b=0), template="none",
                  paper_bgcolor="white", plot_bgcolor="white", boxmode="overlay",
                  font=dict(family=FONT, color="black"), annotations=annotations, shapes=shapes,
                  showlegend=True, **axes, **legends)

fig.write_html("out.html", config={"displayModeBar": False},
               post_script="document.body.style.margin='0';document.body.style.padding='0';"
                           "document.body.style.overflow='hidden';"
                           "document.documentElement.style.overflow='hidden';")
